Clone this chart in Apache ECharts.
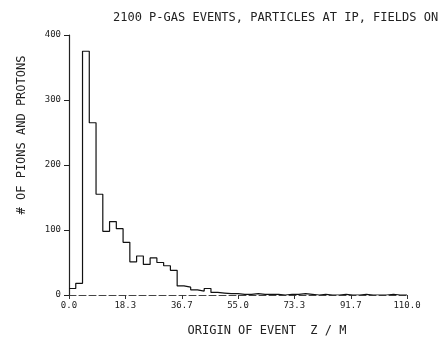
<!DOCTYPE html>
<html>
<head>
<meta charset="utf-8">
<script src="https://cdn.jsdelivr.net/npm/echarts@6/dist/echarts.min.js"></script>
<style>html,body{margin:0;padding:0;background:#fff}#c{width:446px;height:342px}</style>
</head>
<body>
<div id="c"></div>
<script>
// Histogram: bin width 2.2 m, 50 bins from 0 to 110
const binWidth = 2.2;
const counts = [10,18,375,265,155,98,113,102,81,51,60,47,57,50,45,38,14,12,8,6,10,4,3,2,2,1,1,2,1,1,1,0,1,1,2,1,0,1,0,0,1,0,0,1,0,0,0,1,0,0];
const xTickLabels = ['0.0','18.3','36.7','55.0','73.3','91.7','110.0'];
const yTicks = [0,100,200,300,400];
const titleText = '2100 P-GAS EVENTS, PARTICLES AT IP, FIELDS ON';
const xName = 'ORIGIN OF EVENT  Z / M';
const yName = '# OF PIONS AND PROTONS';

const pts = counts.map((v,i)=>[+(i*binWidth).toFixed(2), v]);
pts.push([+(counts.length*binWidth).toFixed(2), counts[counts.length-1]]);

const font = 'DejaVu Sans Mono';
const chart = echarts.init(document.getElementById('c'), null, {renderer:'canvas'});
chart.setOption({
  animation:false,
  backgroundColor:'#fff',
  title:{text:titleText, left:108, top:7, textStyle:{fontFamily:font, fontSize:12, fontWeight:'normal', color:'#222'}},
  grid:{left:69, right:39, top:35, bottom:46},
  xAxis:{type:'value', min:0, max:110,
    axisLine:{lineStyle:{color:'#444', width:1, type:[7,3]}},
    axisTick:{show:true, length:4, customValues:xTickLabels.map(Number), lineStyle:{color:'#333'}},
    axisLabel:{customValues:xTickLabels.map(Number), formatter:v=>v.toFixed(1), fontFamily:font, fontSize:9, color:'#222', margin:6},
    splitLine:{show:false},
    name:xName, nameLocation:'middle', nameGap:30,
    nameTextStyle:{fontFamily:font, fontSize:12, color:'#222', padding:[0,0,0,58]}
  },
  yAxis:{type:'value', min:0, max:400, interval:100,
    axisLine:{show:true, lineStyle:{color:'#222', width:1.2}},
    axisTick:{show:true, length:5, lineStyle:{color:'#222'}},
    axisLabel:{fontFamily:font, fontSize:9, color:'#222', margin:8},
    splitLine:{show:false},
    name:yName, nameLocation:'middle', nameGap:41, nameRotate:90,
    nameTextStyle:{fontFamily:font, fontSize:12, color:'#222', padding:[0,0,0,60]}
  },
  series:[{type:'line', step:'end', data:pts, symbol:'none',
    lineStyle:{color:'#111', width:1.2}}]
});
</script>
</body>
</html>
